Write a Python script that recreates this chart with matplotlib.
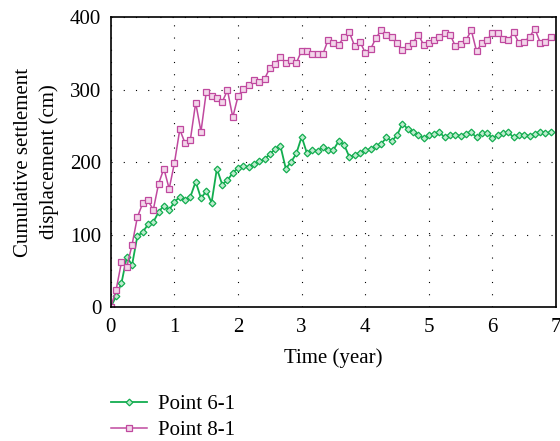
import matplotlib
matplotlib.use("Agg")
import matplotlib.pyplot as plt
import numpy as np

# monthly readings, month 0 .. 83
months = np.arange(84)
time_years = months / 12.0

point_6_1 = [
    0, 15, 33, 69, 58, 98, 103, 114, 117, 131, 140, 134, 145, 152, 147, 152,
    173, 150, 160, 144, 191, 169, 175, 185, 192, 195, 193, 197, 201, 204, 211,
    218, 222, 191, 200, 212, 235, 212, 217, 215, 221, 217, 217, 229, 224, 207,
    210, 213, 216, 218, 222, 225, 234, 229, 237, 253, 246, 241, 238, 233, 237,
    239, 241, 234, 238, 238, 236, 239, 241, 234, 240, 240, 233, 237, 240, 241,
    234, 238, 238, 236, 239, 242, 240, 241,
]
point_8_1 = [
    0, 24, 62, 55, 86, 124, 143, 147, 134, 170, 191, 163, 199, 245, 226, 231,
    282, 242, 297, 291, 289, 283, 299, 262, 291, 301, 306, 313, 311, 315, 330,
    336, 345, 337, 341, 337, 354, 354, 349, 349, 349, 369, 365, 362, 373, 379,
    360, 366, 351, 356, 371, 382, 376, 372, 364, 355, 360, 365, 376, 362, 364,
    368, 373, 378, 376, 360, 363, 368, 382, 353, 364, 369, 378, 378, 370, 368,
    379, 364, 366, 373, 384, 365, 366, 373,
]

GREEN = "#12ad4f"
MAGENTA = "#c0499f"
FS = 15

plt.rcParams["font.family"] = ["Liberation Serif", "DejaVu Serif"]

fig = plt.figure(figsize=(5.6, 4.41), dpi=100)
ax = fig.add_axes([0.198, 0.304, 0.795, 0.657])

ax.plot(time_years, point_6_1, color=GREEN, linewidth=1.3, marker="D",
        markersize=3.4, markerfacecolor="#bfeccf", markeredgecolor=GREEN,
        markeredgewidth=0.9, label="Point 6-1")
ax.plot(time_years, point_8_1, color=MAGENTA, linewidth=1.1, marker="s",
        markersize=4.6, markerfacecolor="#f3d6ea", markeredgecolor=MAGENTA,
        markeredgewidth=0.9, label="Point 8-1")

ax.set_xlim(0, 7)
ax.set_ylim(0, 400)
ax.set_xticks(range(0, 8))
ax.set_yticks(range(0, 401, 100))
ax.tick_params(length=0, labelsize=FS)
ax.tick_params(axis="x", pad=8)
ax.tick_params(axis="y", pad=7)
ax.grid(True, color="black", linewidth=0.8, linestyle=(0, (1, 10)))
for spine in ax.spines.values():
    spine.set_linewidth(1.2)

ax.set_xlabel("Time (year)", fontsize=FS, labelpad=8)
ax.set_ylabel("Cumulative settlement\ndisplacement (cm)", fontsize=FS,
              labelpad=8, linespacing=1.4)

fig.legend(loc="upper left", bbox_to_anchor=(0.198, 0.105), frameon=False,
           fontsize=FS, handlelength=1.75, handletextpad=0.5, labelspacing=0.3,
           borderaxespad=0, borderpad=0, bbox_transform=fig.transFigure)

fig.savefig("out.png", dpi=100)
